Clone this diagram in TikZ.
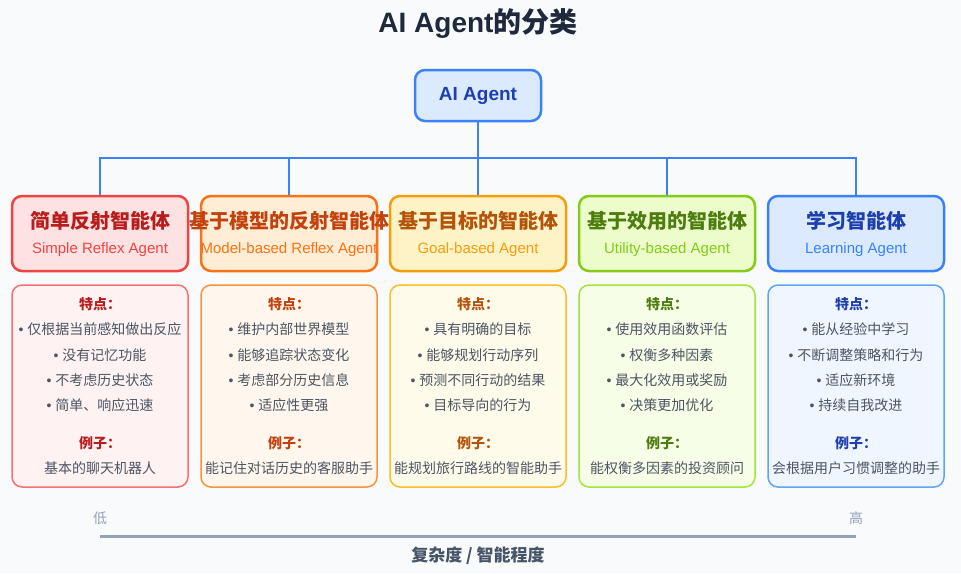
\documentclass[tikz,border=0pt]{standalone}
\usepackage{fontspec}
\setmainfont{Liberation Sans}
\newfontfamily\cjk{Noto Sans CJK SC}
\newcommand\bl{{\normalfont\fontsize{14}{16}\selectfont •}\hspace{4pt}}
\definecolor{bg}{HTML}{F8FAFC}
\definecolor{rS}{HTML}{EF4444}\definecolor{rF}{HTML}{FEE2E2}\definecolor{rD}{HTML}{B91C1C}\definecolor{rDF}{HTML}{FEF2F2}\definecolor{rDS}{HTML}{F87171}
\definecolor{oS}{HTML}{F97316}\definecolor{oF}{HTML}{FFEDD5}\definecolor{oD}{HTML}{C2410C}\definecolor{oDF}{HTML}{FFF7ED}\definecolor{oDS}{HTML}{FB923C}
\definecolor{aS}{HTML}{F59E0B}\definecolor{aF}{HTML}{FEF3C7}\definecolor{aD}{HTML}{B45309}\definecolor{aDF}{HTML}{FFFBEB}\definecolor{aDS}{HTML}{FBBF24}
\definecolor{gS}{HTML}{84CC16}\definecolor{gF}{HTML}{ECFCCB}\definecolor{gD}{HTML}{4D7C0F}\definecolor{gDF}{HTML}{F7FEE7}\definecolor{gDS}{HTML}{A3E635}
\definecolor{bS}{HTML}{3B82F6}\definecolor{bF}{HTML}{DBEAFE}\definecolor{bD}{HTML}{1E40AF}\definecolor{bDF}{HTML}{EFF6FF}\definecolor{bDS}{HTML}{60A5FA}
\definecolor{txt}{HTML}{4B5563}
\definecolor{axis}{HTML}{94A3B8}
\definecolor{axlab}{HTML}{475569}
\definecolor{ttl}{HTML}{1E293B}
\tikzset{
  hbox/.style={draw=#1S, fill=#1F, line width=2.5pt, rounded corners=10pt, minimum width=176pt, minimum height=75pt, inner sep=0pt},
  dbox/.style={draw=#1DS, fill=#1DF, line width=1.5pt, rounded corners=10pt, minimum width=176pt, minimum height=202pt, inner sep=0pt},
  htitle/.style={text=#1D, font=\cjk\bfseries\fontsize{20}{22}\selectfont, inner sep=0pt},
  hsub/.style={text=#1S, font=\fontsize{15}{17}\selectfont, inner sep=0pt},
  dlab/.style={text=#1D, font=\cjk\bfseries\fontsize{14}{16}\selectfont, inner sep=0pt},
  ditem/.style={text=txt, font=\cjk\fontsize{14}{16}\selectfont, inner sep=0pt},
  link/.style={draw=bS, line width=2pt},
}
\begin{document}
\begin{tikzpicture}[x=1pt,y=-1pt]
\fill[bg] (0,0) rectangle (961,573);
\useasboundingbox (0,0) rectangle (961,573);
\node[text=ttl, font=\bfseries\fontsize{28}{32}\selectfont, inner sep=0pt] (title) at (478,23) {AI Agent{\cjk 的分类}};
\node[draw=bS, fill=bF, line width=2.5pt, rounded corners=10pt, minimum width=126pt, minimum height=51pt, inner sep=0pt, text=bD, font=\bfseries\fontsize{19}{22}\selectfont] (root) at (478,95.5) {AI Agent};
\coordinate (j) at (478,158);
% header boxes
\node[hbox=r] (h1) at (100,233.5) {};
\node[hbox=o] (h2) at (289,233.5) {};
\node[hbox=a] (h3) at (478,233.5) {};
\node[hbox=g] (h4) at (667,233.5) {};
\node[hbox=b] (h5) at (856,233.5) {};
\draw[link] (root.south) -- (j);
\draw[link] (j) -| (h1.north);
\draw[link] (j) -| (h2.north);
\draw[link] (j) -- (h3.north);
\draw[link] (j) -| (h4.north);
\draw[link] (j) -| (h5.north);
\node[htitle=r] (t1) at (100,221) {简单反射智能体};
\node[hsub=r] (s1) at (100,249.5) {Simple Reflex Agent};
\node[htitle=o] (t2) at (289,221) {基于模型的反射智能体};
\node[hsub=o] (s2) at (289,249.5) {Model-based Reflex Agent};
\node[htitle=a] (t3) at (478,221) {基于目标的智能体};
\node[hsub=a] (s3) at (478,249.5) {Goal-based Agent};
\node[htitle=g] (t4) at (667,221) {基于效用的智能体};
\node[hsub=g] (s4) at (667,249.5) {Utility-based Agent};
\node[htitle=b] (t5) at (856,221) {学习智能体};
\node[hsub=b] (s5) at (856,249.5) {Learning Agent};
% detail boxes
\node[dbox=r] (d1) at (100,386) {};
\node[dbox=o] (d2) at (289,386) {};
\node[dbox=a] (d3) at (478,386) {};
\node[dbox=g] (d4) at (667,386) {};
\node[dbox=b] (d5) at (856,386) {};
% box 1
\node[dlab=r] (f1) at (100,304) {特点：};
\node[ditem] (b11) at (100,329) {\bl 仅根据当前感知做出反应};
\node[ditem] (b12) at (100,355) {\bl 没有记忆功能};
\node[ditem] (b13) at (100,380) {\bl 不考虑历史状态};
\node[ditem] (b14) at (100,405) {\bl 简单、响应迅速};
\node[dlab=r] (e1) at (100,443) {例子：};
\node[ditem] (x1) at (100,468) {基本的聊天机器人};
% box 2
\node[dlab=o] (f2) at (289,304) {特点：};
\node[ditem] (b21) at (289,329) {\bl 维护内部世界模型};
\node[ditem] (b22) at (289,355) {\bl 能够追踪状态变化};
\node[ditem] (b23) at (289,380) {\bl 考虑部分历史信息};
\node[ditem] (b24) at (289,405) {\bl 适应性更强};
\node[dlab=o] (e2) at (289,443) {例子：};
\node[ditem] (x2) at (289,468) {能记住对话历史的客服助手};
% box 3
\node[dlab=a] (f3) at (478,304) {特点：};
\node[ditem] (b31) at (478,329) {\bl 具有明确的目标};
\node[ditem] (b32) at (478,355) {\bl 能够规划行动序列};
\node[ditem] (b33) at (478,380) {\bl 预测不同行动的结果};
\node[ditem] (b34) at (478,405) {\bl 目标导向的行为};
\node[dlab=a] (e3) at (478,443) {例子：};
\node[ditem] (x3) at (478,468) {能规划旅行路线的智能助手};
% box 4
\node[dlab=g] (f4) at (667,304) {特点：};
\node[ditem] (b41) at (667,329) {\bl 使用效用函数评估};
\node[ditem] (b42) at (667,355) {\bl 权衡多种因素};
\node[ditem] (b43) at (667,380) {\bl 最大化效用或奖励};
\node[ditem] (b44) at (667,405) {\bl 决策更加优化};
\node[dlab=g] (e4) at (667,443) {例子：};
\node[ditem] (x4) at (667,468) {能权衡多因素的投资顾问};
% box 5
\node[dlab=b] (f5) at (856,304) {特点：};
\node[ditem] (b51) at (856,329) {\bl 能从经验中学习};
\node[ditem] (b52) at (856,355) {\bl 不断调整策略和行为};
\node[ditem] (b53) at (856,380) {\bl 适应新环境};
\node[ditem] (b54) at (856,405) {\bl 持续自我改进};
\node[dlab=b] (e5) at (856,443) {例子：};
\node[ditem] (x5) at (856,468) {会根据用户习惯调整的助手};
% axis
\node[text=axis, font=\cjk\fontsize{14}{16}\selectfont, inner sep=0pt] (lo) at (100,518) {低};
\node[text=axis, font=\cjk\fontsize{14}{16}\selectfont, inner sep=0pt] (hi) at (856,518) {高};
\coordinate (a1) at (100,536);
\coordinate (a2) at (856,536);
\draw[axis, line width=3pt] (a1) -- (a2);
\node[text=axlab, font=\cjk\bfseries\fontsize{17}{20}\selectfont, inner sep=0pt] (axl) at (478,556) {复杂度 / 智能程度};
\end{tikzpicture}
\end{document}
